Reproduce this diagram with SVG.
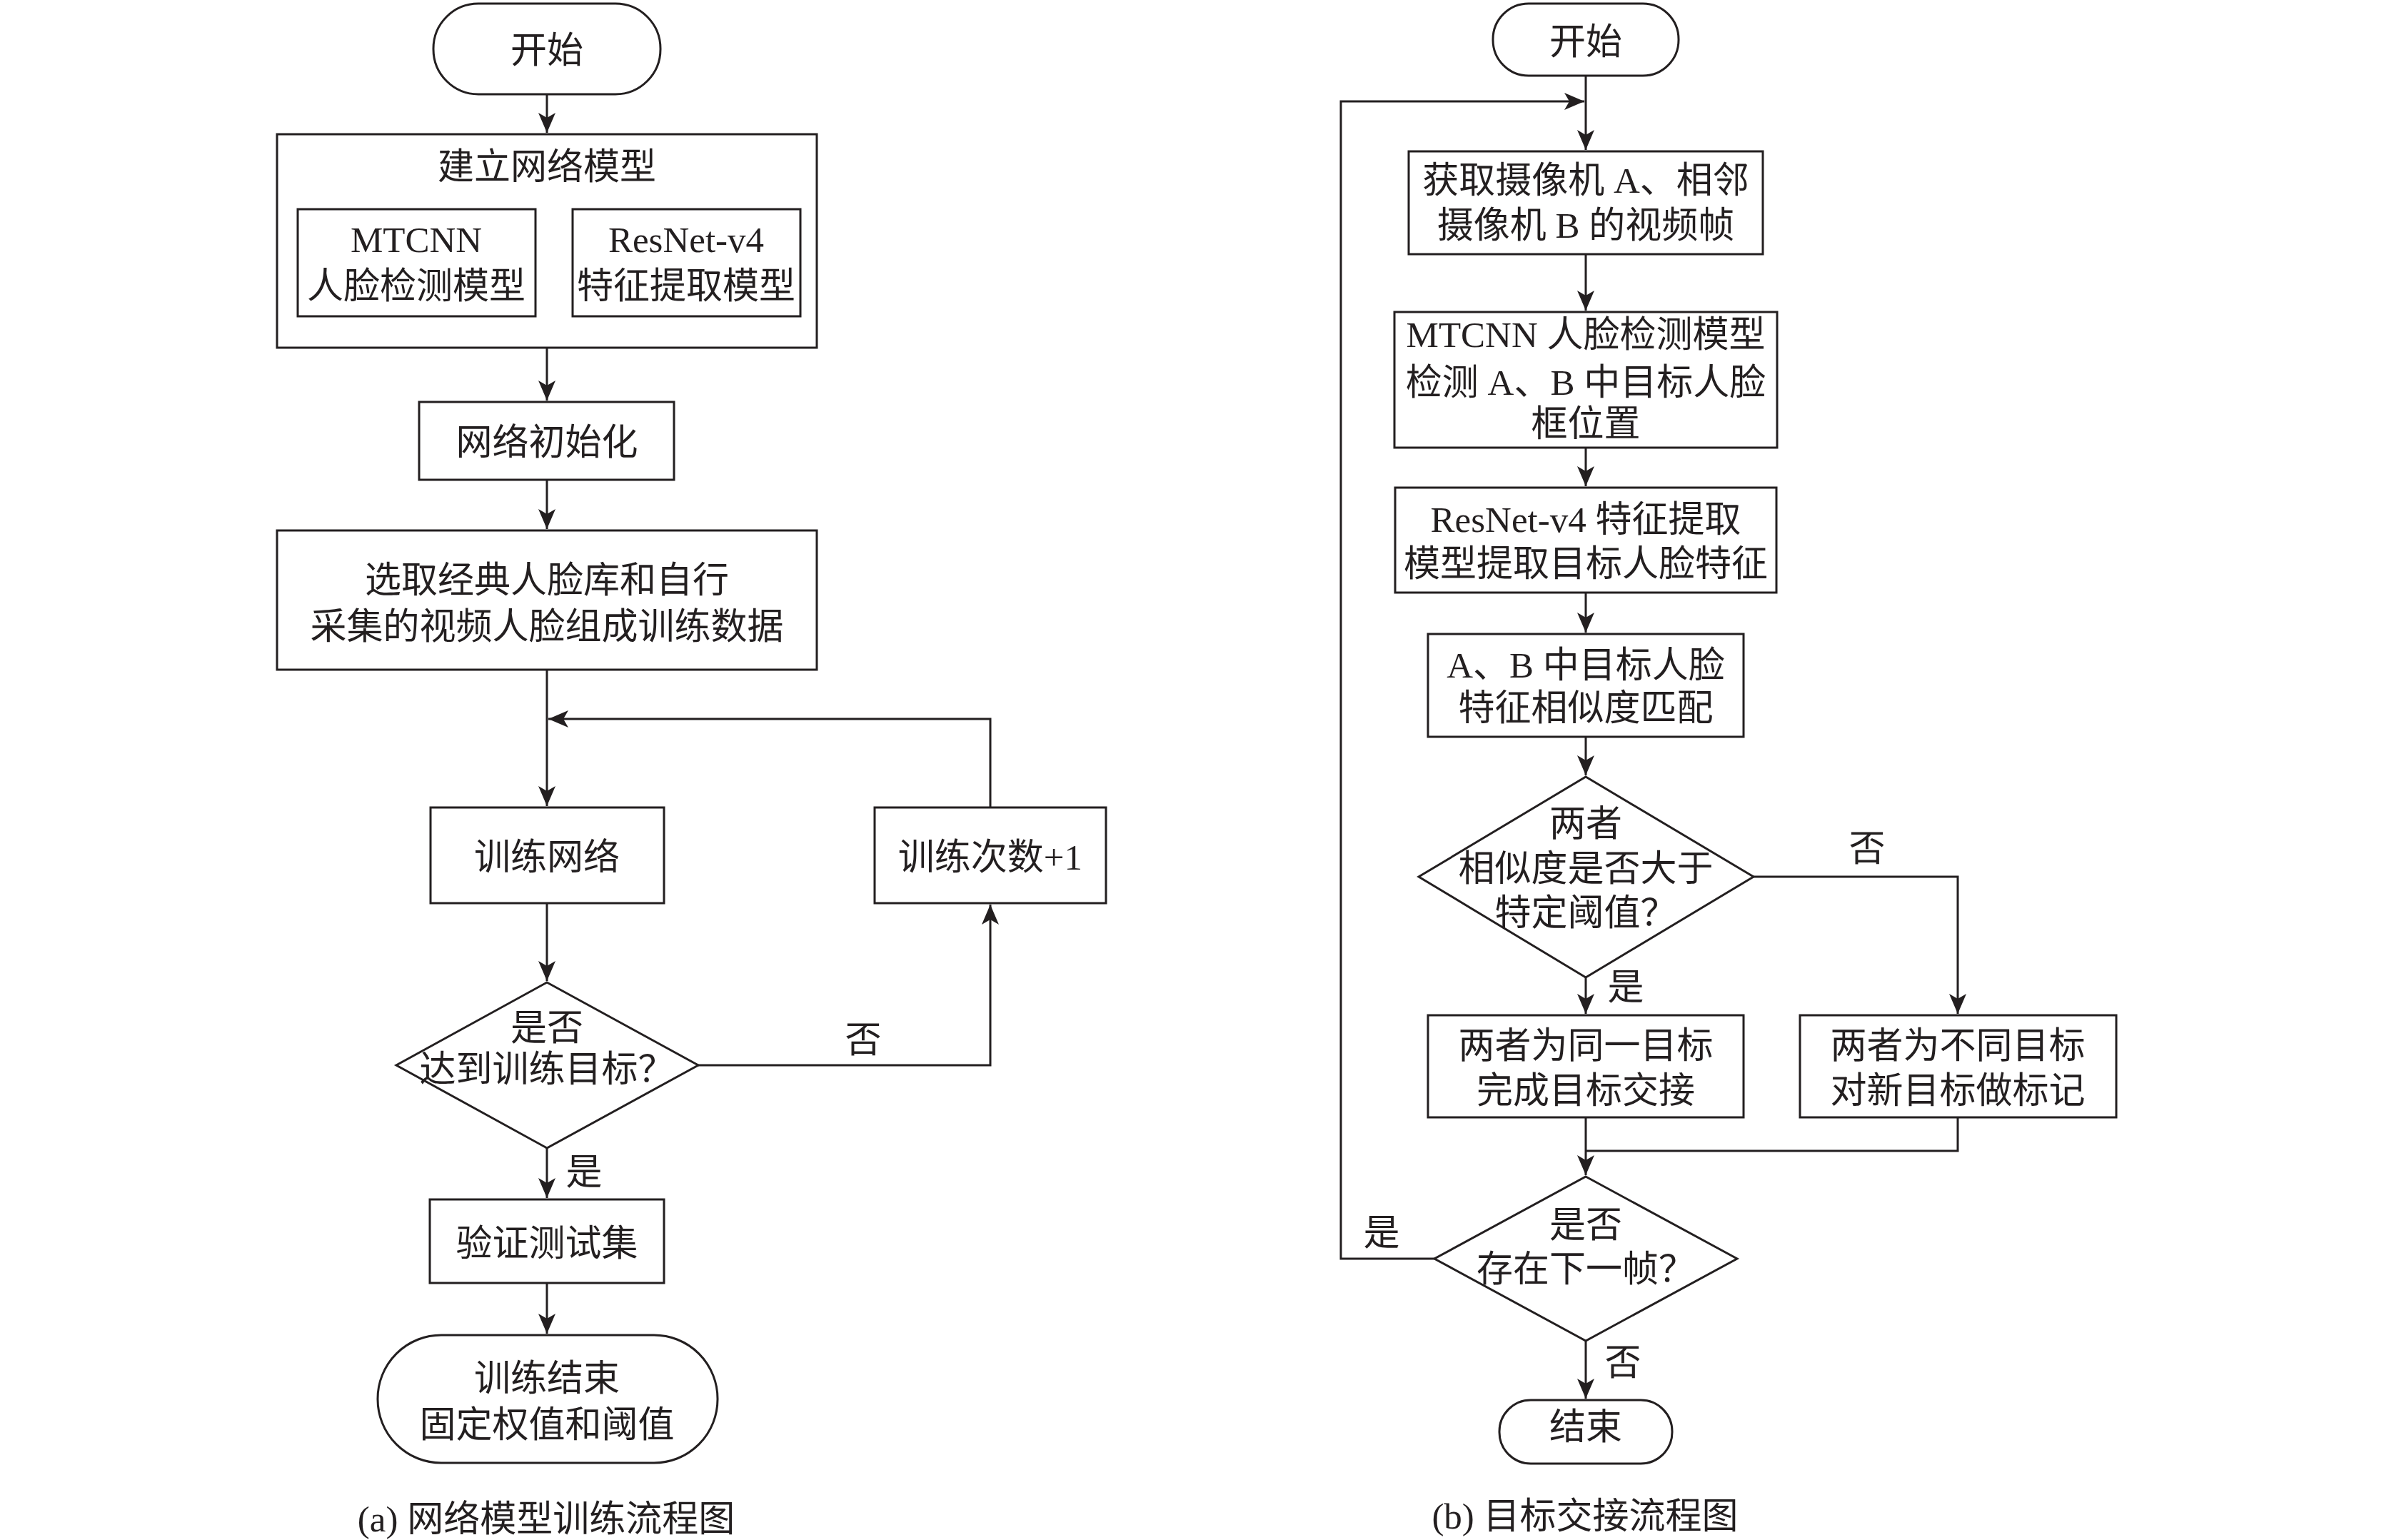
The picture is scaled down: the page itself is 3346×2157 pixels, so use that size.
<svg xmlns="http://www.w3.org/2000/svg" width="3346" height="2157" viewBox="0 0 3346 2157">
<style>
.s{fill:#fff;stroke:#231f20;stroke-width:3}
.c{fill:none;stroke:#231f20;stroke-width:3}
text{font-family:"Liberation Serif","Noto Sans CJK SC",serif;font-size:51px;fill:#231f20;text-anchor:middle}
</style>
<defs>
<marker id="ah" markerUnits="userSpaceOnUse" markerWidth="30" markerHeight="26" refX="28" refY="12" orient="auto">
<path d="M28,12 L0,0 L7,12 L0,24 Z" fill="#231f20"/>
</marker>
</defs>
<rect width="3346" height="2157" fill="#fff"/>

<g id="connectors">
<path class="c" d="M766,132 V186" marker-end="url(#ah)"/>
<path class="c" d="M766,487 V561" marker-end="url(#ah)"/>
<path class="c" d="M766,672 V741" marker-end="url(#ah)"/>
<path class="c" d="M766,938 V1129" marker-end="url(#ah)"/>
<path class="c" d="M766,1265 V1374" marker-end="url(#ah)"/>
<path class="c" d="M978,1492 H1387 V1267" marker-end="url(#ah)"/>
<path class="c" d="M1387,1131 V1007 H768" marker-end="url(#ah)"/>
<path class="c" d="M766,1608 V1678" marker-end="url(#ah)"/>
<path class="c" d="M766,1797 V1868" marker-end="url(#ah)"/>

<path class="c" d="M2221,106 V210" marker-end="url(#ah)"/>
<path class="c" d="M2009,1763 H1878 V142 H2219" marker-end="url(#ah)"/>
<path class="c" d="M2221,356 V435" marker-end="url(#ah)"/>
<path class="c" d="M2221,627 V681" marker-end="url(#ah)"/>
<path class="c" d="M2221,830 V886" marker-end="url(#ah)"/>
<path class="c" d="M2221,1032 V1086" marker-end="url(#ah)"/>
<path class="c" d="M2221,1369 V1420" marker-end="url(#ah)"/>
<path class="c" d="M2456,1228 H2742 V1420" marker-end="url(#ah)"/>
<path class="c" d="M2221,1565 V1646" marker-end="url(#ah)"/>
<path class="c" d="M2742,1565 V1612 H2221"/>
<path class="c" d="M2221,1878 V1959" marker-end="url(#ah)"/>
</g>

<g id="a-start"><rect class="s" x="607" y="5" width="318" height="127" rx="63"/><text x="766" y="88">开始</text></g>
<g id="a-build">
<rect class="s" x="388" y="188" width="756" height="299"/>
<text x="766" y="251">建立网络模型</text>
<g id="a-mtcnn"><rect class="s" x="417" y="293" width="333" height="150"/><text x="583" y="353">MTCNN</text><text x="583" y="418">人脸检测模型</text></g>
<g id="a-resnet"><rect class="s" x="802" y="293" width="319" height="150"/><text x="961" y="353">ResNet-v4</text><text x="961" y="418">特征提取模型</text></g>
</g>
<g id="a-init"><rect class="s" x="587" y="563" width="357" height="109"/><text x="766" y="637">网络初始化</text></g>
<g id="a-data"><rect class="s" x="388" y="743" width="756" height="195"/><text x="766" y="830">选取经典人脸库和自行</text><text x="766" y="895">采集的视频人脸组成训练数据</text></g>
<g id="a-train"><rect class="s" x="603" y="1131" width="327" height="134"/><text x="766" y="1218">训练网络</text></g>
<g id="a-count"><rect class="s" x="1225" y="1131" width="324" height="134"/><text x="1387" y="1218">训练次数+1</text></g>
<g id="a-check"><polygon class="s" points="766,1376 978,1492 766,1608 555,1492"/><text x="766" y="1457">是否</text><text x="766" y="1515">达到训练目标？</text></g>
<text x="1209" y="1474">否</text>
<text x="818" y="1659">是</text>
<g id="a-test"><rect class="s" x="602" y="1680" width="328" height="117"/><text x="766" y="1759">验证测试集</text></g>
<g id="a-end"><rect class="s" x="529" y="1870" width="476" height="179" rx="89"/><text x="766" y="1948">训练结束</text><text x="766" y="2013">固定权值和阈值</text></g>
<text x="765" y="2145">(a) 网络模型训练流程图</text>

<g id="b-start"><rect class="s" x="2091" y="5" width="260" height="101" rx="50"/><text x="2221" y="76">开始</text></g>
<g id="b-get"><rect class="s" x="1973" y="212" width="496" height="144"/><text x="2221" y="270">获取摄像机 A、相邻</text><text x="2221" y="333">摄像机 B 的视频帧</text></g>
<g id="b-mtcnn"><rect class="s" x="1953" y="437" width="536" height="190"/><text x="2221" y="486">MTCNN 人脸检测模型</text><text x="2221" y="553">检测 A、B 中目标人脸</text><text x="2221" y="611">框位置</text></g>
<g id="b-resnet"><rect class="s" x="1954" y="683" width="534" height="147"/><text x="2221" y="745">ResNet-v4 特征提取</text><text x="2221" y="807">模型提取目标人脸特征</text></g>
<g id="b-match"><rect class="s" x="2000" y="888" width="442" height="144"/><text x="2221" y="949">A、B 中目标人脸</text><text x="2221" y="1009">特征相似度匹配</text></g>
<g id="b-check"><polygon class="s" points="2221,1088 2456,1228 2221,1369 1987,1228"/><text x="2221" y="1171">两者</text><text x="2221" y="1234">相似度是否大于</text><text x="2221" y="1296">特定阈值？</text></g>
<text x="2615" y="1206">否</text>
<text x="2277" y="1400">是</text>
<g id="b-same"><rect class="s" x="2000" y="1422" width="442" height="143"/><text x="2221" y="1482">两者为同一目标</text><text x="2221" y="1545">完成目标交接</text></g>
<g id="b-diff"><rect class="s" x="2521" y="1422" width="443" height="143"/><text x="2742" y="1482">两者为不同目标</text><text x="2742" y="1545">对新目标做标记</text></g>
<g id="b-next"><polygon class="s" points="2221,1648 2433,1763 2221,1878 2009,1763"/><text x="2221" y="1733">是否</text><text x="2221" y="1795">存在下一帧？</text></g>
<text x="1935" y="1744">是</text>
<text x="2273" y="1926">否</text>
<g id="b-end"><rect class="s" x="2100" y="1961" width="242" height="89" rx="44"/><text x="2221" y="2016">结束</text></g>
<text x="2220" y="2141">(b) 目标交接流程图</text>
</svg>
